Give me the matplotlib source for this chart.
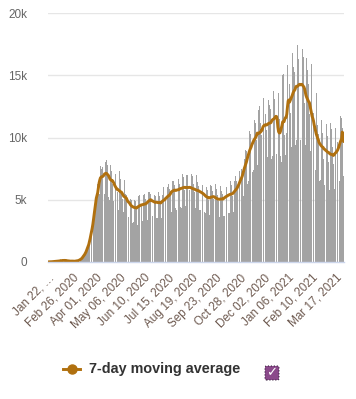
import numpy as np
import pandas as pd
import matplotlib
matplotlib.use('Agg')
import matplotlib.pyplot as plt
from matplotlib.lines import Line2D
from matplotlib.patches import FancyBboxPatch

plt.rcParams['font.family'] = ['Liberation Sans', 'DejaVu Sans']

# Muertes diarias (Wed..Tue por fila), desde Jan 22, 2020
muertes = [
    17, 1, 8, 16, 14, 26, 49,
    2, 38, 42, 46, 45, 57, 64,
    66, 72, 86, 89, 97, 108, 97,
    254, 13, 143, 142, 106, 98, 139,
    115, 125, 5, 98, 15, 160, 80,
    60, 45, 60, 65, 55, 70, 80,
    95, 110, 105, 100, 110, 210, 280,
    310, 360, 420, 400, 630, 650, 880,
    900, 1050, 1200, 1400, 1500, 1700, 2100,
    2500, 2800, 3100, 3300, 3500, 4000, 5000,
    5200, 5800, 6300, 6100, 5000, 5500, 7700,
    7900, 7500, 7600, 6500, 5300, 5500, 8000,
    8400, 8200, 7800, 6700, 5200, 5000, 7700,
    7800, 7300, 6900, 6300, 4900, 5000, 7300,
    7100, 6500, 5900, 5600, 4200, 4300, 7300,
    6700, 6200, 5700, 5100, 4100, 4000, 6600,
    6000, 5500, 5400, 4900, 3800, 3600, 5600,
    5300, 5100, 5000, 4400, 3100, 3200, 5300,
    5000, 4900, 4800, 4300, 3000, 3100, 5300,
    5400, 5200, 5000, 4500, 3300, 3300, 5400,
    5500, 5300, 5100, 4600, 3400, 3400, 5600,
    6000, 5600, 5500, 4900, 3700, 3700, 5500,
    5600, 5400, 5300, 4700, 3500, 3500, 5600,
    5600, 5300, 5200, 4700, 3500, 3500, 5400,
    6000, 5700, 5500, 5000, 3800, 3700, 6000,
    6300, 6100, 5900, 5300, 4100, 4000, 6500,
    7200, 6500, 6200, 5500, 4300, 4200, 6500,
    7000, 6700, 6300, 5600, 4400, 4300, 6900,
    7100, 6800, 6400, 5800, 4500, 4400, 7000,
    7000, 6700, 6500, 5800, 4500, 4400, 7100,
    6900, 6600, 6300, 5600, 4300, 4300, 7000,
    6700, 6400, 6100, 5500, 4200, 4200, 6800,
    6400, 6200, 5900, 5200, 4000, 3900, 6500,
    6000, 5800, 5500, 5000, 3800, 3700, 6200,
    6100, 5900, 5700, 5100, 3900, 3800, 6300,
    5900, 5700, 5400, 4900, 3700, 3600, 6100,
    5900, 5700, 5500, 4900, 3700, 3700, 6000,
    6300, 6000, 5800, 5200, 3900, 3900, 6300,
    6500, 6200, 6000, 5300, 4000, 4000, 6500,
    6900, 6700, 6500, 5800, 4400, 4400, 7300,
    7600, 7600, 7500, 6800, 5200, 5300, 8300,
    9100, 9000, 8900, 8000, 6300, 6500, 9900,
    10500, 10300, 10200, 9200, 7200, 7400, 11100,
    11400, 11200, 11000, 9800, 7800, 8000, 12200,
    12500, 10800, 11200, 10200, 8000, 8200, 13200,
    12600, 12300, 11900, 10600, 8200, 8400, 13000,
    12700, 12600, 12300, 10800, 8300, 8500, 13200,
    13700, 13100, 12600, 11000, 8700, 9000, 13800,
    13600, 11500, 8200, 8500, 8000, 9000, 15000,
    15100, 13000, 10200, 8600, 8000, 10400, 15800,
    15300, 14800, 14300, 12000, 8500, 9200, 16800,
    16200, 15700, 15300, 13200, 9400, 9800, 17400,
    17400, 16300, 15300, 13300, 9800, 10300, 17500,
    17100, 16500, 15400, 12800, 9400, 9700, 16400,
    15400, 14600, 14300, 11900, 8600, 8900, 15900,
    13500, 12800, 12000, 10100, 7600, 7400, 13600,
    12000, 11000, 10300, 8800, 6500, 6600, 12000,
    11400, 10400, 9800, 8300, 6200, 6300, 11300,
    11100, 10100, 9400, 8000, 5800, 6000, 11200,
    10700, 9700, 9200, 7900, 5700, 5900, 10800,
    11100, 10300, 9600, 8300, 6200, 6500, 11700,
    12200, 11600, 10800, 9400, 6900,
]

etiquetas_x = ['Jan 22, …', 'Feb 26, 2020', 'Apr 01, 2020', 'May 06, 2020',
               'Jun 10, 2020', 'Jul 15, 2020', 'Aug 19, 2020', 'Sep 23, 2020',
               'Oct 28, 2020', 'Dec 02, 2020', 'Jan 06, 2021', 'Feb 10, 2021',
               'Mar 17, 2021']
valores_y = [0, 5000, 10000, 15000, 20000]
etiquetas_y = ['0', '5k', '10k', '15k', '20k']

serie = pd.Series(muertes, dtype=float)
media7 = serie.rolling(7, center=True, min_periods=1).mean()
x = np.arange(len(serie))

fig = plt.figure(figsize=(3.56, 3.99), dpi=100)
ax = fig.add_axes([48/356, 1 - 262/399, 296/356, 249/399])

ax.bar(x, serie, width=0.85, color='#a3a3a3', linewidth=0)
ax.plot(x, media7, color='#b0700f', linewidth=2.1, solid_capstyle='round')

ax.set_xlim(-0.5, len(serie) - 0.5)
ax.set_ylim(0, 20000)
ax.set_yticks(valores_y)
ax.set_yticklabels(etiquetas_y, color='#666666', fontsize=8.5)
ax.yaxis.grid(True, color='#e6e6e6', linewidth=1)
ax.set_axisbelow(True)
ax.tick_params(axis='y', length=0, pad=15)

ax.set_xticks(np.arange(0, len(serie), 35))
ax.set_xticklabels(etiquetas_x, rotation=45, ha='right', va='top',
                   rotation_mode='anchor', color='#6e5a50', fontsize=8.5)
ax.tick_params(axis='x', length=0, pad=7)

for lado in ['left', 'right', 'top']:
    ax.spines[lado].set_visible(False)
ax.spines['bottom'].set_color('#ccd6eb')
ax.spines['bottom'].set_linewidth(1)

# Leyenda (dibujada a mano)
y_ley = 1 - 369/399
fig.add_artist(Line2D([63/356, 80/356], [y_ley, y_ley], color='#b0700f',
                      linewidth=2.1, transform=fig.transFigure))
fig.add_artist(Line2D([71.5/356], [y_ley], color='#b0700f', marker='o',
                      markersize=6.5, transform=fig.transFigure))
fig.text(89/356, y_ley, '7-day moving average', color='#333333',
         fontsize=10.4, fontweight='bold', ha='left', va='center')

# Casilla marcada
caja = FancyBboxPatch((265/356, 1 - 380/399), 14/356, 14/399,
                      boxstyle='round,pad=0,rounding_size=0.004',
                      transform=fig.transFigure, facecolor='#8b4a8b',
                      edgecolor='#3a2040', linewidth=0.8, linestyle=':')
fig.patches.append(caja)
fig.text(272/356, 1 - 373/399, '✓', color='white', fontsize=9.5,
         ha='center', va='center', fontweight='bold', family='DejaVu Sans')

fig.savefig('out.png', dpi=100)
